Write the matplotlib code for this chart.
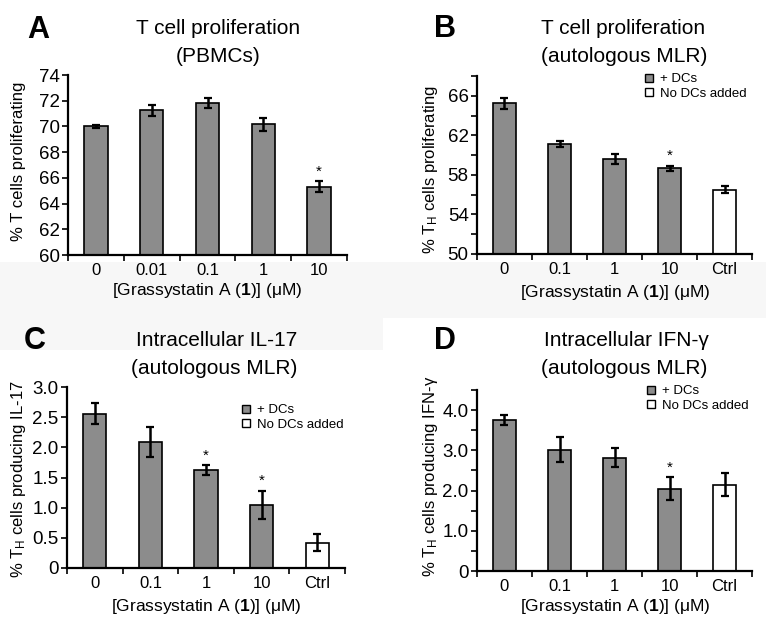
import matplotlib
matplotlib.use("Agg")
import matplotlib.pyplot as plt
from matplotlib.lines import Line2D
from matplotlib.patches import Rectangle

plt.rcParams['font.family'] = ['Liberation Sans', 'DejaVu Sans']
plt.rcParams['mathtext.fontset'] = 'custom'
plt.rcParams['mathtext.rm'] = 'Liberation Sans'
plt.rcParams['mathtext.it'] = 'Liberation Sans:italic'
plt.rcParams['mathtext.bf'] = 'Liberation Sans:bold'

# ---------------- data ----------------
cats_a = ['0', '0.01', '0.1', '1', '10']
vals_a = [70.0, 71.25, 71.8, 70.15, 65.3]
errs_a = [0.1, 0.45, 0.38, 0.48, 0.42]
sig_a = [4]

cats_b = ['0', '0.1', '1', '10', 'Ctrl']
vals_b = [65.25, 61.15, 59.65, 58.65, 56.5]
errs_b = [0.55, 0.3, 0.5, 0.28, 0.38]
sig_b = [3]

cats_c = ['0', '0.1', '1', '10', 'Ctrl']
vals_c = [2.56, 2.09, 1.62, 1.05, 0.42]
errs_c = [0.18, 0.245, 0.085, 0.23, 0.14]
sig_c = [2, 3]

cats_d = ['0', '0.1', '1', '10', 'Ctrl']
vals_d = [3.75, 3.01, 2.82, 2.05, 2.15]
errs_d = [0.13, 0.31, 0.24, 0.28, 0.28]
sig_d = [3]

# ---------------- layout ----------------
W, H = 766, 632
GRAY = '#8c8c8c'
fig = plt.figure(figsize=(W / 100, H / 100), dpi=100)

# faint page-background band between rows
fig.patches.append(Rectangle((0, 1 - 318 / H), 1, (318 - 262) / H, transform=fig.transFigure,
                             facecolor='#f7f7f7', edgecolor='none', zorder=-10))
fig.patches.append(Rectangle((0, 1 - 350 / H), 383 / W, (350 - 318) / H, transform=fig.transFigure,
                             facecolor='#f7f7f7', edgecolor='none', zorder=-10))


def px_axes(left, right, top, bottom):
    return fig.add_axes([left / W, 1 - bottom / H, (right - left) / W, (bottom - top) / H])


def ftext(x, y, s, **kw):
    fig.text(x / W, 1 - y / H, s, **kw)


xlabel = r'[Grassystatin A ($\mathbf{1}$)] (μM)'


def panel(ax, cats, vals, errs, sig, ylim, major, minor, ticklabels, ctrl_white):
    n = len(cats)
    xs = list(range(n))
    colors = [GRAY] * n
    if ctrl_white:
        colors[-1] = 'white'
    ax.bar(xs, vals, width=0.42, color=colors, edgecolor='black', linewidth=1.2, zorder=2)
    ax.errorbar(xs, vals, yerr=errs, fmt='none', ecolor='black', elinewidth=1.8,
                capsize=3, capthick=1.6, zorder=3)
    for i in sig:
        ax.annotate('*', (xs[i], vals[i] + errs[i]), xytext=(0, 2), textcoords='offset points',
                    ha='center', va='bottom', fontsize=11)
    ax.set_xlim(-0.5, n - 0.5)
    ax.set_ylim(*ylim)
    ax.set_xticks(xs)
    ax.set_xticklabels(cats, fontsize=12)
    ax.set_xticks([i - 0.5 for i in range(n + 1)], minor=True)
    ax.tick_params(axis='x', which='major', length=0, pad=6)
    ax.tick_params(axis='x', which='minor', length=4, width=1.2, direction='out')
    ax.set_yticks(minor, minor=True)
    ax.set_yticks(major)
    ax.set_yticklabels(ticklabels, fontsize=13.5)
    ax.tick_params(axis='y', which='both', length=4, width=1.2, direction='out', pad=2)
    for s in ['top', 'right']:
        ax.spines[s].set_visible(False)
    for s in ['left', 'bottom']:
        ax.spines[s].set_linewidth(1.6)
    ax.patch.set_alpha(0)


def legend(ax, x, y):
    handles = [Line2D([], [], marker='s', linestyle='none', markersize=6, markerfacecolor=GRAY,
                      markeredgecolor='black', markeredgewidth=1.0),
               Line2D([], [], marker='s', linestyle='none', markersize=6, markerfacecolor='white',
                      markeredgecolor='black', markeredgewidth=1.0)]
    ax.legend(handles, ['+ DCs', 'No DCs added'], loc='upper left',
              bbox_to_anchor=(x / W, 1 - y / H), bbox_transform=fig.transFigure,
              frameon=False, fontsize=9.5, handlelength=0.7, handletextpad=0.5,
              labelspacing=0.2, borderpad=0, borderaxespad=0)


# Panel A
axA = px_axes(68, 347, 75, 255)
panel(axA, cats_a, vals_a, errs_a, sig_a, (60, 74), [60, 62, 64, 66, 68, 70, 72, 74],
      [60, 62, 64, 66, 68, 70, 72, 74], ['60', '62', '64', '66', '68', '70', '72', '74'], False)
# Panel B
axB = px_axes(477, 752, 76, 254)
panel(axB, cats_b, vals_b, errs_b, sig_b, (50, 68), [50, 54, 58, 62, 66],
      list(range(50, 69, 2)), ['50', '54', '58', '62', '66'], True)
legend(axB, 644, 73)
# Panel C
axC = px_axes(67, 345, 387, 568)
panel(axC, cats_c, vals_c, errs_c, sig_c, (0, 3.0), [0, 0.5, 1.0, 1.5, 2.0, 2.5, 3.0],
      [0, 0.5, 1.0, 1.5, 2.0, 2.5, 3.0], ['0', '0.5', '1.0', '1.5', '2.0', '2.5', '3.0'], True)
legend(axC, 241, 404)
# Panel D
axD = px_axes(477, 752, 390, 571)
panel(axD, cats_d, vals_d, errs_d, sig_d, (0, 4.5), [0, 1.0, 2.0, 3.0, 4.0],
      [0, 0.5, 1.0, 1.5, 2.0, 2.5, 3.0, 3.5, 4.0, 4.5], ['0', '1.0', '2.0', '3.0', '4.0'], True)
legend(axD, 646, 385)

# x labels
for (cx, cy) in [(207, 291), (615, 292), (206, 607), (615, 607)]:
    ftext(cx, cy, xlabel, ha='center', va='center', fontsize=12.5)

# y labels
ftext(19, 161, '% T cells proliferating', rotation=90, ha='center', va='center', fontsize=12)
ftext(430, 170, r'% T$_{\mathrm{H}}$ cells proliferating', rotation=90, ha='center', va='center', fontsize=12)
ftext(19, 479, r'% T$_{\mathrm{H}}$ cells producing IL-17', rotation=90, ha='center', va='center', fontsize=12)
ftext(430, 476, r'% T$_{\mathrm{H}}$ cells producing IFN-γ', rotation=90, ha='center', va='center', fontsize=12)

# titles
ftext(218, 28, 'T cell proliferation', ha='center', va='center', fontsize=15)
ftext(218, 56, '(PBMCs)', ha='center', va='center', fontsize=15)
ftext(623, 28, 'T cell proliferation', ha='center', va='center', fontsize=15)
ftext(624, 56, '(autologous MLR)', ha='center', va='center', fontsize=15)
ftext(217, 341, 'Intracellular IL-17', ha='center', va='center', fontsize=15)
ftext(214, 369, '(autologous MLR)', ha='center', va='center', fontsize=15)
ftext(626, 341, 'Intracellular IFN-γ', ha='center', va='center', fontsize=15)
ftext(624, 368, '(autologous MLR)', ha='center', va='center', fontsize=15)

# panel letters
for (lx, ly, s) in [(38, 30, 'A'), (445, 29, 'B'), (35, 341, 'C'), (445, 341, 'D')]:
    ftext(lx, ly, s, ha='center', va='center', fontsize=22, fontweight='bold')

fig.savefig('out.png', dpi=100)
